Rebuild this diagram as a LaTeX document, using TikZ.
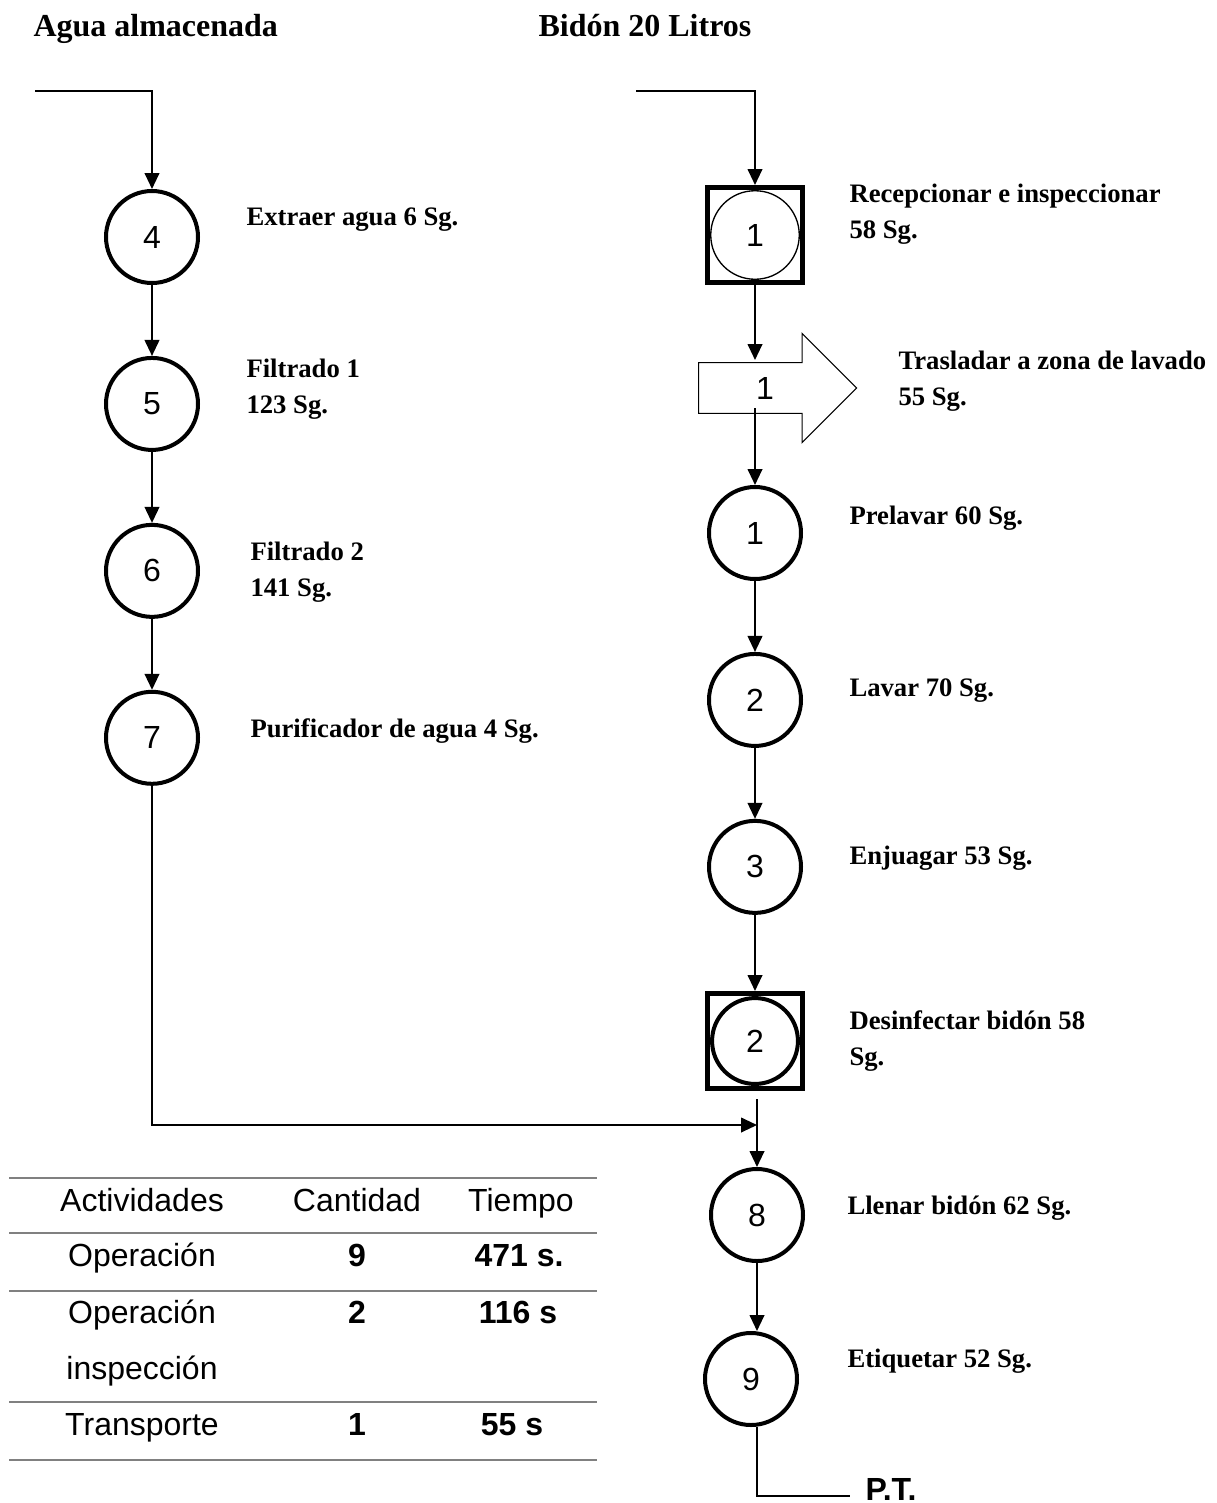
\documentclass[tikz,border=0pt]{standalone}
\usepackage{fontspec}
\setmainfont{Liberation Serif}
\newfontfamily\arialfont{Liberation Sans}
\usetikzlibrary{arrows.meta,positioning,calc,shapes.arrows}

\tikzset{
  flow/.style={-{Triangle[length=6pt,width=5.5pt]},line width=0.75pt},
  plain/.style={line width=0.75pt},
  oper/.style={circle,draw,line width=1.5pt,minimum size=34.5pt,inner sep=0pt,
               font=\arialfont\fontsize{12}{14}\selectfont},
  insp/.style={rectangle,draw,line width=1.9pt,minimum size=35.6pt,inner sep=0pt,
               font=\arialfont\fontsize{12}{14}\selectfont,
               path picture={\draw[line width=0.5pt] (path picture bounding box.center) circle[radius=16.6pt];}},
  inspb/.style={insp,path picture={\draw[line width=1.5pt] (path picture bounding box.center) circle[radius=16.1pt];}},
  transp/.style={single arrow,draw,line width=0.4pt,fill=white,inner xsep=0pt,inner ysep=4.3pt,
                 single arrow head extend=9.9pt,single arrow tip angle=90,
                 minimum height=59.25pt,minimum width=40.9pt,
                 font=\arialfont\fontsize{12}{14}\selectfont},
  hdr/.style={anchor=base west,inner sep=0pt,font=\bfseries\fontsize{12}{14}\selectfont},
  lbl/.style={anchor=west,align=left,inner sep=0pt,font=\bfseries\fontsize{10}{13.6}\selectfont},
  tab/.style={anchor=base,inner sep=0pt,font=\arialfont\fontsize{12}{14}\selectfont},
  tabb/.style={tab,font=\arialfont\bfseries\fontsize{12}{14}\selectfont},
  rule/.style={draw=gray,line width=0.75pt}
}

\begin{document}
\begin{tikzpicture}[x=0.375pt,y=-0.375pt,node distance=62.6pt]
  \useasboundingbox (0,0) rectangle (1216,1503);

  \node[hdr] (hA) at (33,36) {Agua almacenada};
  \node[hdr] (hB) at (538,36) {Bidón 20 Litros};

  % agua
  \node[oper] (c4) at (152,237) {4};
  \node[oper] (c5) [below of=c4] {5};
  \node[oper] (c6) [below of=c5] {6};
  \node[oper] (c7) [below of=c6] {7};

  \node[lbl] (l4) at (246,220) {Extraer agua 6 Sg.};
  \node[lbl] (l5) at (246,389) {Filtrado 1\\123 Sg.};
  \node[lbl] (l6) at (250,572) {Filtrado 2\\141 Sg.};
  \node[lbl] (l7) at (250,731) {Purificador de agua 4 Sg.};

  % bidon
  \node[insp] (s1) at (755,235) {1};
  \node[transp] (tr) at (765,388) {1};
  \node[oper] (r1) at (755,533) {1};
  \node[oper] (r2) [below of=r1] {2};
  \node[oper] (r3) [below of=r2] {3};
  \node[inspb] (s2) at (755,1041) {2};
  \node[oper] (r8) at (757,1215) {8};
  \node[oper] (r9) at (751,1379) {9};

  \node[lbl] (ls1) at (849,214) {Recepcionar e inspeccionar\\58 Sg.};
  \node[lbl] (ltr) at (898,381) {Trasladar a zona de lavado\\55 Sg.};
  \node[lbl] (lr1) at (849,518) {Prelavar 60 Sg.};
  \node[lbl] (lr2) at (849,691) {Lavar 70 Sg.};
  \node[lbl] (lr3) at (849,858) {Enjuagar 53 Sg.};
  \node[lbl] (ls2) at (849,1041) {Desinfectar bidón 58\\Sg.};
  \node[lbl] (lr8) at (847,1208) {Llenar bidón 62 Sg.};
  \node[lbl] (lr9) at (847,1361) {Etiquetar 52 Sg.};
  \node[anchor=base west,inner sep=0pt,font=\arialfont\bfseries\fontsize{12}{14}\selectfont] (pt) at (865,1500) {P.T.};

  \coordinate (srcA) at (35,91);
  \coordinate (srcB) at (636,91);
  \coordinate (join) at (757,1125);
  \coordinate (ptEnd) at (850,1496);

  \draw[flow] (srcA) -| (c4);
  \draw[flow] (c4) -- (c5);
  \draw[flow] (c5) -- (c6);
  \draw[flow] (c6) -- (c7);
  \draw[flow] (c7) |- (join);

  \draw[flow] (srcB) -| (s1);
  \draw[flow] (s1) -- ($(s1 |- tr)+(0,-28)$);
  \draw[flow] ($(r1 |- tr)+(0,20)$) -- (r1);
  \draw[flow] (r1) -- (r2);
  \draw[flow] (r2) -- (r3);
  \draw[flow] (r3) -- (s2);
  \draw[flow,shorten <=3pt] (s2.south -| r8) -- (r8);
  \draw[flow] (r8) -- (r8 |- r9.north);
  \draw[plain] (r9.south -| r8) |- (ptEnd);

  % resumen
  \foreach \y in {1178,1233,1291,1402,1460}
    \draw[rule] (9,\y) -- (597,\y);
  \node[tab] (t11) at (142,1211) {Actividades};
  \node[tab] (t12) at (357,1211) {Cantidad};
  \node[tab] (t13) at (521,1211) {Tiempo};
  \node[tab] (t21) at (142,1266) {Operación};
  \node[tabb] (t22) at (357,1266) {9};
  \node[tabb] (t23) at (519,1266) {471 s.};
  \node[tab] (t31) at (142,1323) {Operación};
  \node[tab] (t32) at (142,1379) {inspección};
  \node[tabb] (t33) at (357,1323) {2};
  \node[tabb] (t34) at (518,1323) {116 s};
  \node[tab] (t41) at (142,1435) {Transporte};
  \node[tabb] (t42) at (357,1435) {1};
  \node[tabb] (t43) at (512,1435) {55 s};
\end{tikzpicture}
\end{document}
